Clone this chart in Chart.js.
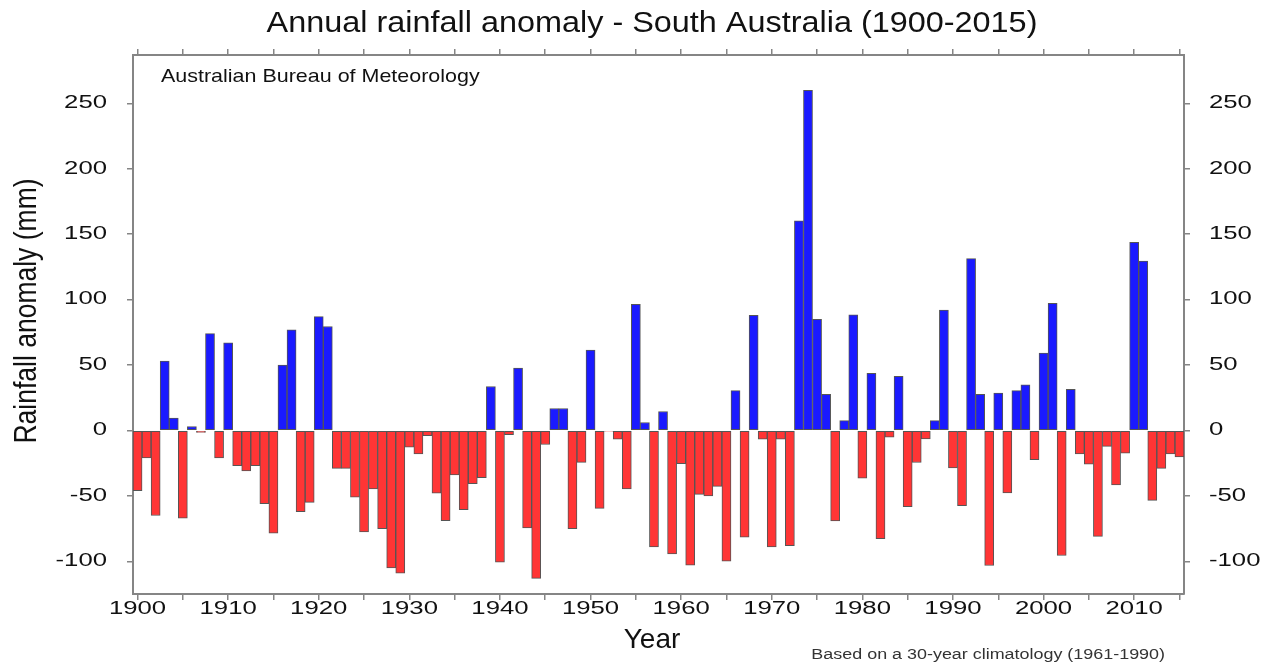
<!DOCTYPE html>
<html>
<head>
<meta charset="utf-8">
<title>Annual rainfall anomaly - South Australia (1900-2015)</title>
<script src="https://cdn.jsdelivr.net/npm/chart.js@4/dist/chart.umd.min.js"></script>
<style>
  html, body { margin: 0; padding: 0; background: #ffffff; }
  canvas { display: block; }
</style>
</head>
<body>
<canvas id="chart" width="1263" height="666"></canvas>
<script>
// Annual rainfall anomaly (mm) for South Australia, one value per year from 1900
const firstYear = 1900;
const anomaly = [
  -46, -21, -65, 53, 9.5, -67, 3, -1.5, 74, -21,            // 1900s
  67, -27, -31, -27, -56, -78.5, 50, 77, -62, -55,          // 1910s
  87, 79.5, -29, -29, -51, -77.5, -44.7, -75, -105, -109,   // 1920s
  -12.7, -18, -4, -48, -69, -34, -60.5, -40.6, -36, 33.6,   // 1930s
  -100.7, -3.3, 47.6, -74.5, -113, -10.7, 16.8, 16.8, -75, -24.4, // 1940s
  61.5, -59.5, -0.6, -6.6, -44.7, 96.4, 6.1, -89, 14.5, -94.3,    // 1950s
  -25.4, -103, -48.8, -50, -42.7, -99.9, 30.5, -81.6, 88, -6.6,   // 1960s
  -89, -6.6, -88, 160.3, 260, 84.9, 27.6, -69.2, 7.5, 88.3,       // 1970s
  -36.4, 43.6, -82.8, -5.2, 41.3, -58.3, -24.5, -6.5, 7.5, 92.1,  // 1980s
  -28.6, -57.5, 131.4, 27.6, -103.2, 28.6, -47.8, 30.5, 34.8, -22.4, // 1990s
  59.2, 97.1, -95.6, 31.5, -18, -25.7, -81, -12.2, -41.7, -17.3,  // 2000s
  143.9, 129.4, -53.4, -29, -18, -20.3                            // 2010s
];
const years = anomaly.map((_, i) => firstYear + i);

// Axis labels
const xTickLabels = [1900, 1910, 1920, 1930, 1940, 1950, 1960, 1970, 1980, 1990, 2000, 2010];
const yTickValues = [-100, -50, 0, 50, 100, 150, 200, 250];

const BLUE = '#1a1aff';
const RED = '#ff3535';
const EDGE = '#555555';
const AXIS = '#858585';
const FONT = '"Liberation Sans", Arial, Helvetica, sans-serif';

const xRange = { min: 1899.5, max: 2015.5 };
const yRange = { min: -125, max: 287 };

function xAxis(position, height) {
  return {
    type: 'linear', position, ...xRange, offset: false,
    afterFit: s => { s.height = height; },
    ticks: { display: false, stepSize: 5, includeBounds: false, autoSkip: false },
    grid: { display: true, offset: false, drawOnChartArea: false, drawTicks: true,
            tickLength: 6, color: AXIS, tickColor: AXIS, lineWidth: 1.5 },
    border: { display: true, color: AXIS, width: 2 }
  };
}
function yAxis(position, width) {
  return {
    type: 'linear', position, ...yRange,
    afterFit: s => { s.width = width; },
    ticks: { display: false, stepSize: 50, includeBounds: false },
    grid: { display: true, drawOnChartArea: false, drawTicks: true,
            tickLength: 6, color: AXIS, tickColor: AXIS, lineWidth: 1.5 },
    border: { display: true, color: AXIS, width: 2 }
  };
}

// Text drawn with a horizontal stretch, as in the original chart artwork
function drawText(ctx, text, px, py, size, align, sx, baseline) {
  ctx.save();
  ctx.translate(px, py);
  ctx.scale(sx, 1);
  ctx.font = size + 'px ' + FONT;
  ctx.textAlign = align;
  ctx.textBaseline = baseline || 'alphabetic';
  ctx.fillText(text, 0, 0);
  ctx.restore();
}

const chartText = {
  id: 'chartText',
  afterDraw(chart) {
    const ctx = chart.ctx;
    const xs = chart.scales.x;
    const yl = chart.scales.y;
    const yr = chart.scales.yRight;
    ctx.save();
    ctx.fillStyle = '#111111';

    drawText(ctx, 'Annual rainfall anomaly - South Australia (1900-2015)', 652, 32, 30, 'center', 1.08);
    drawText(ctx, 'Australian Bureau of Meteorology', 161, 82, 19, 'left', 1.13);

    yTickValues.forEach(v => {
      drawText(ctx, String(v), yl.right - 26, yl.getPixelForValue(v), 17.5, 'right', 1.47, 'middle');
      drawText(ctx, String(v), yr.left + 25, yr.getPixelForValue(v), 17.5, 'left', 1.47, 'middle');
    });
    xTickLabels.forEach(v => {
      drawText(ctx, String(v), xs.getPixelForValue(v), xs.top + 15, 17.5, 'center', 1.47, 'middle');
    });

    drawText(ctx, 'Year', 652, 648, 28, 'center', 1.0);

    ctx.save();
    ctx.translate(28, 311);
    ctx.rotate(-Math.PI / 2);
    ctx.scale(1, 1.15);
    ctx.font = '26.5px ' + FONT;
    ctx.textAlign = 'center';
    ctx.textBaseline = 'middle';
    ctx.fillText('Rainfall anomaly (mm)', 0, 0);
    ctx.restore();

    ctx.fillStyle = '#333333';
    drawText(ctx, 'Based on a 30-year climatology (1961-1990)', 1165, 659, 14, 'right', 1.28);
    ctx.restore();
  }
};

new Chart(document.getElementById('chart'), {
  type: 'bar',
  data: {
    datasets: [{
      data: years.map((yr, i) => ({ x: yr, y: anomaly[i] })),
      backgroundColor: c => (c.raw && c.raw.y < 0 ? RED : BLUE),
      borderColor: EDGE,
      borderWidth: 1,
      borderSkipped: false,
      barPercentage: 1,
      categoryPercentage: 1
    }]
  },
  options: {
    responsive: false,
    animation: false,
    layout: { padding: 0 },
    plugins: { legend: { display: false }, title: { display: false }, tooltip: { enabled: false } },
    scales: {
      x: xAxis('bottom', 72),
      xTop: xAxis('top', 55),
      y: yAxis('left', 133),
      yRight: yAxis('right', 79)
    }
  },
  plugins: [chartText]
});
</script>
</body>
</html>
